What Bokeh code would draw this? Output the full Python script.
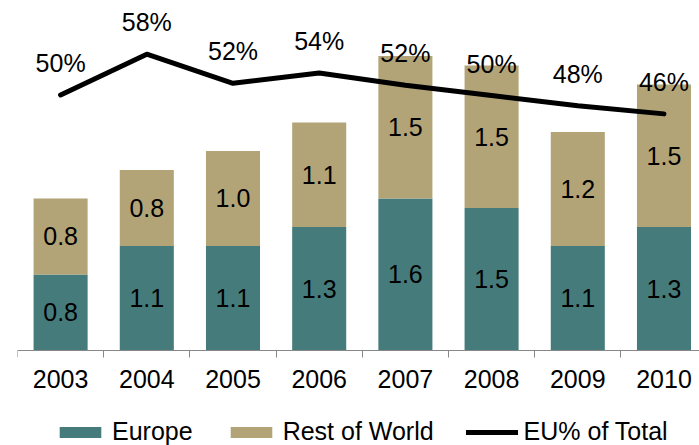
from bokeh.plotting import figure
from bokeh.models import Range1d, FixedTicker, ColumnDataSource
from bokeh.core.properties import value
from bokeh.embed import file_html
from bokeh.resources import INLINE

# ---- data ----
years = ["2003", "2004", "2005", "2006", "2007", "2008", "2009", "2010"]
europe = [0.8, 1.1, 1.1, 1.3, 1.6, 1.5, 1.1, 1.3]
rest_of_world = [0.8, 0.8, 1.0, 1.1, 1.5, 1.5, 1.2, 1.5]
eu_pct = [50.1, 58.1, 52.4, 54.4, 52.0, 50.0, 48.0, 46.4]

TEAL = "#457C7B"
TAN = "#B2A477"
FONT = "Liberation Sans"
FS = "25px"

x = list(range(len(years)))
src = ColumnDataSource(dict(
    x=x,
    europe=europe,
    rest=rest_of_world,
    eu_mid=[e / 2 for e in europe],
    rest_mid=[e + r / 2 for e, r in zip(europe, rest_of_world)],
    eu_txt=[f"{v:.1f}" for v in europe],
    rest_txt=[f"{v:.1f}" for v in rest_of_world],
    pct=eu_pct,
    pct_txt=[f"{int(v + 0.5)}%" for v in eu_pct],
))

p = figure(width=699, height=445, output_backend="svg", toolbar_location=None,
           x_range=Range1d(-0.5, 7.412), y_range=Range1d(-1.0, 3.684),
           min_border_left=17, min_border_right=0, min_border_top=0,
           min_border_bottom=0, y_axis_location=None)
p.extra_y_ranges = {"pct": Range1d(-18.63, 68.63)}
p.outline_line_color = None
p.xgrid.visible = False
p.ygrid.visible = False

p.vbar_stack(["europe", "rest"], x="x", width=0.627, color=[TEAL, TAN],
             line_color=None, source=src,
             legend_label=["Europe", "Rest of World"])

p.text(x="x", y="eu_mid", text="eu_txt", source=src, text_align="center",
       text_baseline="middle", text_font=value(FONT), text_font_size=FS,
       text_color="black")
p.text(x="x", y="rest_mid", text="rest_txt", source=src, text_align="center",
       text_baseline="middle", text_font=value(FONT), text_font_size=FS,
       text_color="black")

p.line(x="x", y="pct", source=src, y_range_name="pct", line_width=5,
       line_color="black", line_cap="round", line_join="round",
       legend_label="EU% of Total")
p.text(x="x", y="pct", text="pct_txt", source=src, y_range_name="pct",
       y_offset=-32, text_align="center", text_baseline="middle",
       text_font=value(FONT), text_font_size=FS, text_color="black")

ax = p.xaxis[0]
ax.fixed_location = 0
ax.ticker = FixedTicker(ticks=x, minor_ticks=[i - 0.5 for i in range(len(years) + 1)])
ax.major_label_overrides = {i: y for i, y in zip(x, years)}
ax.major_tick_out = 0
ax.major_tick_in = 0
ax.minor_tick_out = 7
ax.minor_tick_in = 0
ax.minor_tick_line_color = "#888888"
ax.axis_line_color = "#888888"
ax.major_label_standoff = 13
ax.major_label_text_font = FONT
ax.major_label_text_font_size = FS
ax.major_label_text_color = "black"

lg = p.legend[0]
lg.location = (37, -1)
lg.orientation = "horizontal"
lg.padding = 0
lg.margin = 0
lg.spacing = 32
lg.label_standoff = 6
lg.glyph_width = 52
lg.glyph_height = 14
lg.border_line_color = None
lg.background_fill_alpha = 0
lg.label_text_font = FONT
lg.label_text_font_size = FS
lg.label_text_color = "black"

open("out.html", "w").write(file_html(p, INLINE))
